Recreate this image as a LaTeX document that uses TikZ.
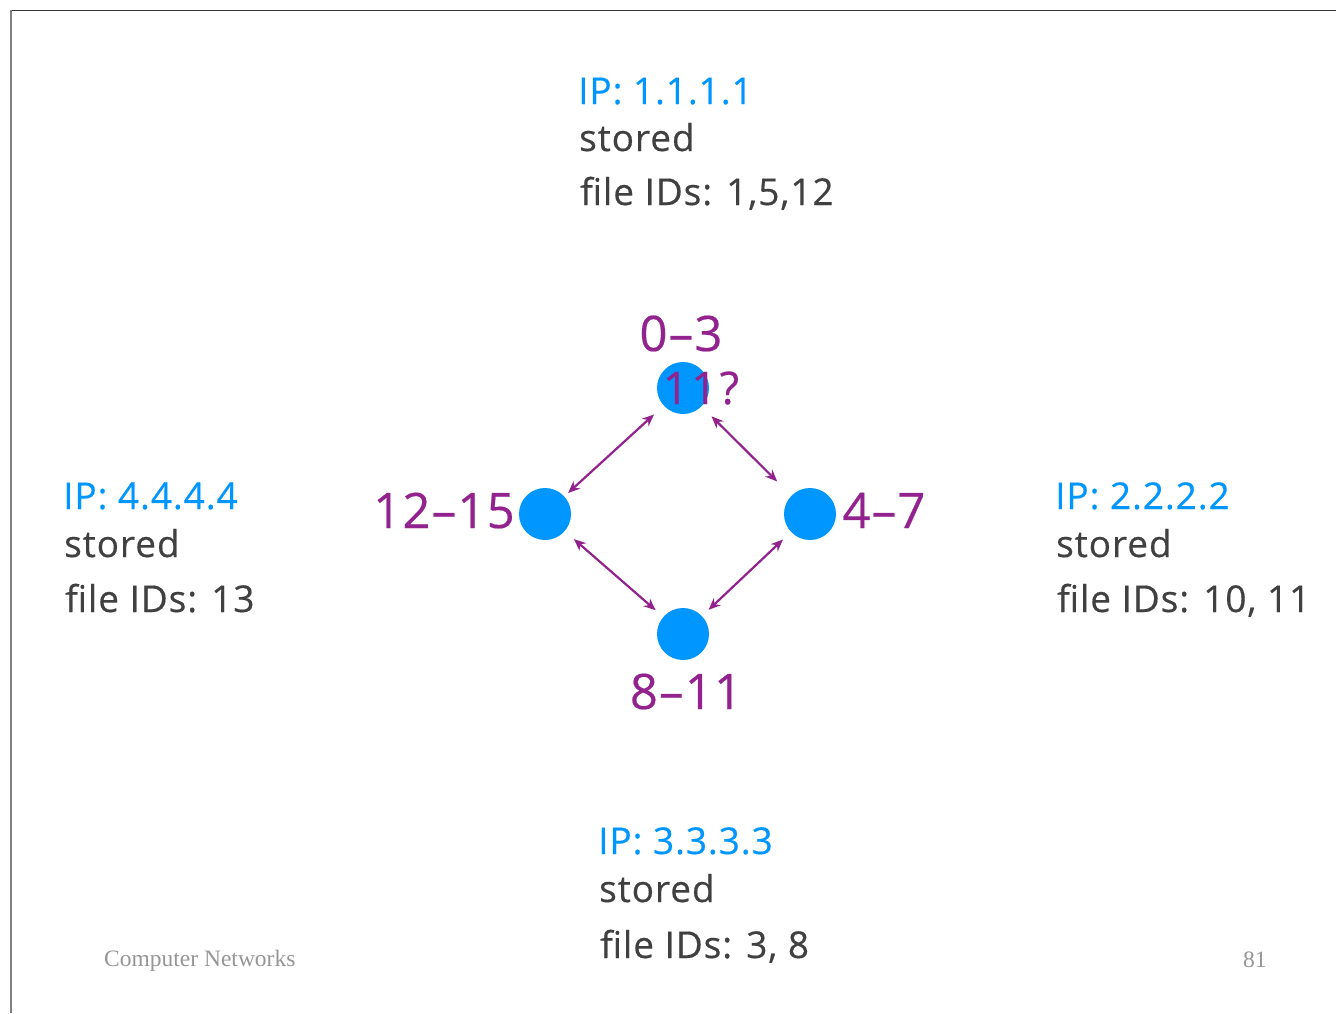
\documentclass[tikz,border=0pt]{standalone}
\usepackage{fontspec}
\setmainfont{Open Sans}
\newfontfamily\chalk{Open Sans}[LetterSpace=2.5,FakeBold=0.4]
\newfontfamily\chalkwide{Open Sans}[LetterSpace=6,FakeBold=0.4]
\newfontfamily\footfont{Liberation Serif}
\usetikzlibrary{arrows.meta}
\definecolor{ipblue}{RGB}{0,150,255}
\definecolor{lblpurple}{RGB}{146,34,142}
\definecolor{txtgray}{RGB}{64,64,64}
\definecolor{footgray}{RGB}{150,150,150}
\tikzset{
  peer/.style={circle,fill=ipblue,minimum size=52pt,inner sep=0pt},
  link/.style={lblpurple,line width=2.2pt,{Stealth[length=12pt,width=10pt]}-{Stealth[length=12pt,width=10pt]}},
  rng/.style={text=lblpurple,font=\chalk\fontsize{49}{49}\selectfont,inner sep=0pt,anchor=base},
  iptxt/.style={text=ipblue,font=\chalk\fontsize{37}{37}\selectfont,inner sep=0pt,anchor=base west},
  infotxt/.style={text=txtgray,font=\chalk\fontsize{37}{37}\selectfont,inner sep=0pt,anchor=base west},
  foot/.style={text=footgray,font=\footfont\fontsize{23.5}{23.5}\selectfont,inner sep=0pt,anchor=base west}
}
\begin{document}
\begin{tikzpicture}[x=1pt,y=-1pt]
\useasboundingbox (0,0) rectangle (1336,1013);
% frame
\draw[black!80,line width=1.2pt] (11,10.5) -- (1336,10.5);
\draw[black!50,line width=1.5pt] (11,10) -- (11,1013);
% peers
\node[peer] (top) at (683,388) {};
\node[peer] (left) at (545,514) {};
\node[peer] (right) at (810,514) {};
\node[peer] (bot) at (683,634) {};
% links
\draw[link,shorten <=13pt,shorten >=5pt] (top) -- (left);
\draw[link,shorten <=14pt,shorten >=20pt] (top) -- (right);
\draw[link,shorten <=12pt,shorten >=10pt] (left) -- (bot);
\draw[link,shorten <=11pt,shorten >=9pt] (right) -- (bot);
% range labels
\node[rng] (r03) at (681,351) {0–3};
\node[rng,font=\chalkwide\fontsize{45}{45}\selectfont] (q11) at (701,404) {11?};
\node[rng] (r1215) at (444,528) {12–15};
\node[rng] (r47) at (884,528) {4–7};
\node[rng] (r811) at (686,709) {8–11};
% info blocks
\node[iptxt] (ip1) at (578,104) {IP: 1.1.1.1};
\node[infotxt] (st1) at (579,151) {stored};
\node[infotxt] (fi1) at (580,205) {file IDs: 1,5,12};
\node[iptxt] (ip4) at (63,509) {IP: 4.4.4.4};
\node[infotxt] (st4) at (64,557) {stored};
\node[infotxt] (fi4) at (65,612) {file IDs: 13};
\node[iptxt] (ip2) at (1055,509) {IP: 2.2.2.2};
\node[infotxt] (st2) at (1056,557) {stored};
\node[infotxt] (fi2) at (1057,612) {file IDs: 10, 11};
\node[iptxt] (ip3) at (598,854) {IP: 3.3.3.3};
\node[infotxt] (st3) at (599,902) {stored};
\node[infotxt] (fi3) at (600,958) {file IDs: 3, 8};
% footer
\node[foot] (fn) at (104,966) {Computer Networks};
\node[foot] (pg) at (1243,967) {81};
\end{tikzpicture}
\end{document}
